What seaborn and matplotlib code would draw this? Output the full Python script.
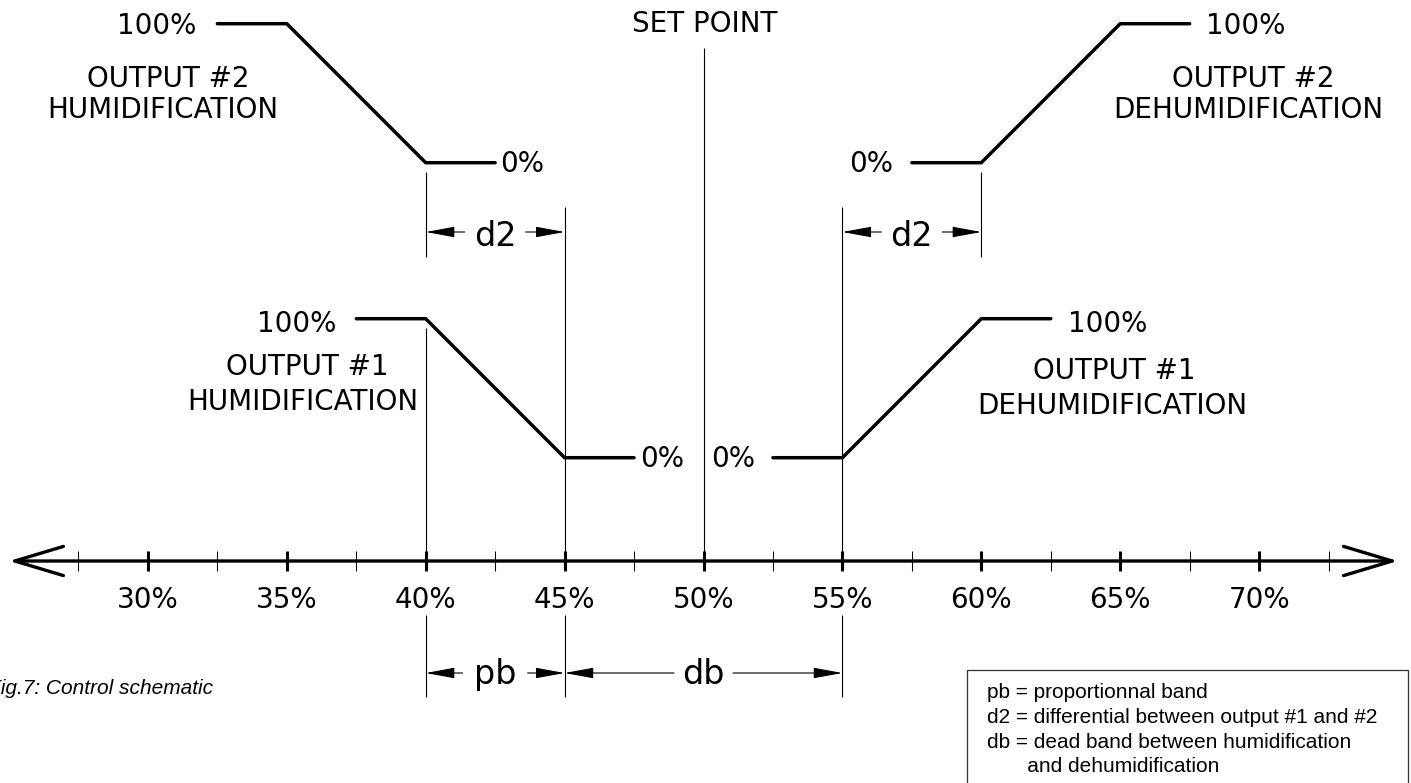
import numpy as np
import pandas as pd
import matplotlib
matplotlib.use("Agg")
import matplotlib.pyplot as plt
import matplotlib.transforms as mtransforms
from matplotlib.patches import FancyArrowPatch, Rectangle, ArrowStyle
import seaborn as sns

# ------------------------------------------------------------------ data
hum2_x = [32.5, 35, 40, 42.5]
hum2_out = [100, 100, 0, 0]
hum1_x = [37.5, 40, 45, 47.5]
hum1_out = [100, 100, 0, 0]
dehum1_x = [52.5, 55, 60, 62.5]
dehum1_out = [0, 0, 100, 100]
dehum2_x = [57.5, 60, 65, 67.5]
dehum2_out = [0, 0, 100, 100]

set_point = 50
axis_range = [25, 75]
major_ticks = [30, 35, 40, 45, 50, 55, 60, 65, 70]
minor_ticks = [27.5, 32.5, 37.5, 42.5, 47.5, 52.5, 57.5, 62.5, 67.5, 72.5]
tick_labels = ["30%", "35%", "40%", "45%", "50%", "55%", "60%", "65%", "70%"]

dim_names = ["d2", "d2", "pb", "db"]
dim_start = [40, 55, 40, 45]
dim_end = [45, 60, 45, 55]

legend_lines = ["pb = proportionnal band",
                "d2 = differential between output #1 and #2",
                "db = dead band between humidification",
                "       and dehumidification"]
caption = "Fig.7: Control schematic"

# ------------------------------------------------------------------ layout (reference pixels)
W, H = 1411, 783
PX_PER_UNIT = 27.78          # pixels per % RH
X0 = 25 - 9 / PX_PER_UNIT    # data value at the left figure edge
AXIS_Y = 561
ROW = {"2": (162.7, 139.0), "1": (457.7, 139.0)}   # (0% level, height of 100%)

def px2x(px):
    return X0 + px / PX_PER_UNIT

def row_y(out, row):
    base, h = ROW[row]
    return base - np.asarray(out) / 100.0 * h

sns.set_theme(style="white")
plt.rcParams["font.family"] = ["DejaVu Sans"]

fig = plt.figure(figsize=(W / 100, H / 100), dpi=100)
ax = fig.add_axes([0, 0, 1, 1])
ax.set_xlim(X0, X0 + W / PX_PER_UNIT)
ax.set_ylim(H, 0)
ax.set_facecolor("white")
for s in ["left", "right", "top", "bottom"]:
    ax.spines[s].set_visible(False)
ax.spines["bottom"].set_position(("data", AXIS_Y))

# pixel transform for annotations
pix = mtransforms.Affine2D().scale(1 / W, -1 / H).translate(0, 1) + fig.transFigure

# ------------------------------------------------------------------ curves
frames = []
for name, xs, outs, row in [("hum2", hum2_x, hum2_out, "2"),
                            ("hum1", hum1_x, hum1_out, "1"),
                            ("dehum1", dehum1_x, dehum1_out, "1"),
                            ("dehum2", dehum2_x, dehum2_out, "2")]:
    frames.append(pd.DataFrame({"x": xs, "y": row_y(outs, row), "curve": name}))
df = pd.concat(frames, ignore_index=True)
sns.lineplot(data=df, x="x", y="y", units="curve", estimator=None, sort=False,
             color="black", lw=2.5, ax=ax, legend=False, zorder=5)
ax.set_xlabel("")
ax.set_ylabel("")

# ------------------------------------------------------------------ extension lines
thin = dict(color="black", lw=0.8, zorder=3)
ext = [(40, 172, 257), (60, 172, 257),
       (40, 328, AXIS_Y), (45, 207, AXIS_Y), (55, 207, AXIS_Y),
       (set_point, 48, AXIS_Y),
       (40, 615, 697), (45, 615, 697), (55, 615, 697)]
for xv, y0, y1 in ext:
    ax.vlines(xv, y0, y1, **thin)

# ------------------------------------------------------------------ main axis
arr = FancyArrowPatch((axis_range[0], AXIS_Y), (axis_range[1], AXIS_Y),
                      arrowstyle=ArrowStyle("<->", head_length=35, head_width=10.5),
                      mutation_scale=1, lw=2.4, color="black",
                      shrinkA=0, shrinkB=0, zorder=6)
ax.add_patch(arr)
ax.set_xticks(major_ticks, labels=tick_labels)
ax.set_xticks(minor_ticks, minor=True)
ax.tick_params(axis="x", which="major", direction="inout", length=14.4, width=2.2,
               color="black", pad=10.6, labelsize=20, labelcolor="black",
               bottom=True, top=False)
ax.tick_params(axis="x", which="minor", direction="inout", length=15, width=0.75,
               color="black", bottom=True, top=False)
ax.tick_params(axis="y", left=False, right=False, labelleft=False)
ax.grid(False)

# ------------------------------------------------------------------ dimension arrows
dim_y = {"d2": 232, "pb": 673, "db": 673}
dim_base = {"d2": 246, "pb": 684, "db": 684}
dim_gap = {"d2": 30.5, "pb": 32.5, "db": 29.5}
astyle = ArrowStyle("-|>", head_length=18, head_width=3.3)
for name, a, b in zip(dim_names, dim_start, dim_end):
    mid = (a + b) / 2
    g = dim_gap[name] / PX_PER_UNIT
    y = dim_y[name]
    for tip, start in [(a, mid - g), (b, mid + g)]:
        ax.add_patch(FancyArrowPatch((start, y), (tip, y), arrowstyle=astyle,
                                     mutation_scale=1, lw=0.8, color="black",
                                     shrinkA=0, shrinkB=0, zorder=4))
    ax.text(mid, dim_base[name], name, fontsize=24, ha="center", va="baseline",
            color="black")

# ------------------------------------------------------------------ labels
fs = 20
labels = [
    ("SET POINT", 705, 32, "center"),
    ("100%", 196, 34, "right"), ("0%", 500, 172, "left"),
    ("OUTPUT #2", 168, 87, "center"), ("HUMIDIFICATION", 163, 118, "center"),
    ("0%", 893, 172, "right"), ("100%", 1206, 34, "left"),
    ("OUTPUT #2", 1253, 87, "center"), ("DEHUMIDIFICATION", 1248, 118, "center"),
    ("100%", 336, 332, "right"), ("0%", 640, 467, "left"),
    ("OUTPUT #1", 307, 375, "center"), ("HUMIDIFICATION", 303, 410, "center"),
    ("0%", 755, 467, "right"), ("100%", 1068, 332, "left"),
    ("OUTPUT #1", 1114, 379, "center"), ("DEHUMIDIFICATION", 1112, 414, "center"),
]
for t, x, y, ha in labels:
    ax.text(x, y, t, transform=pix, fontsize=fs, ha=ha, va="baseline", color="black")

# ------------------------------------------------------------------ legend box & caption
box = Rectangle((967, 670), 441, 140, transform=pix, fill=False,
                edgecolor="#333333", lw=0.9, zorder=2, clip_on=False)
ax.add_patch(box)
for i, line in enumerate(legend_lines):
    ax.text(987, 693 + i * 24.6, line, transform=pix, fontsize=15,
            family="Liberation Sans", ha="left", va="center", color="black")
ax.text(213, 689, caption, transform=pix, fontsize=15, family="Liberation Sans",
        style="italic", ha="right", va="center", color="black")

fig.savefig("out.png", dpi=100, facecolor="white")
